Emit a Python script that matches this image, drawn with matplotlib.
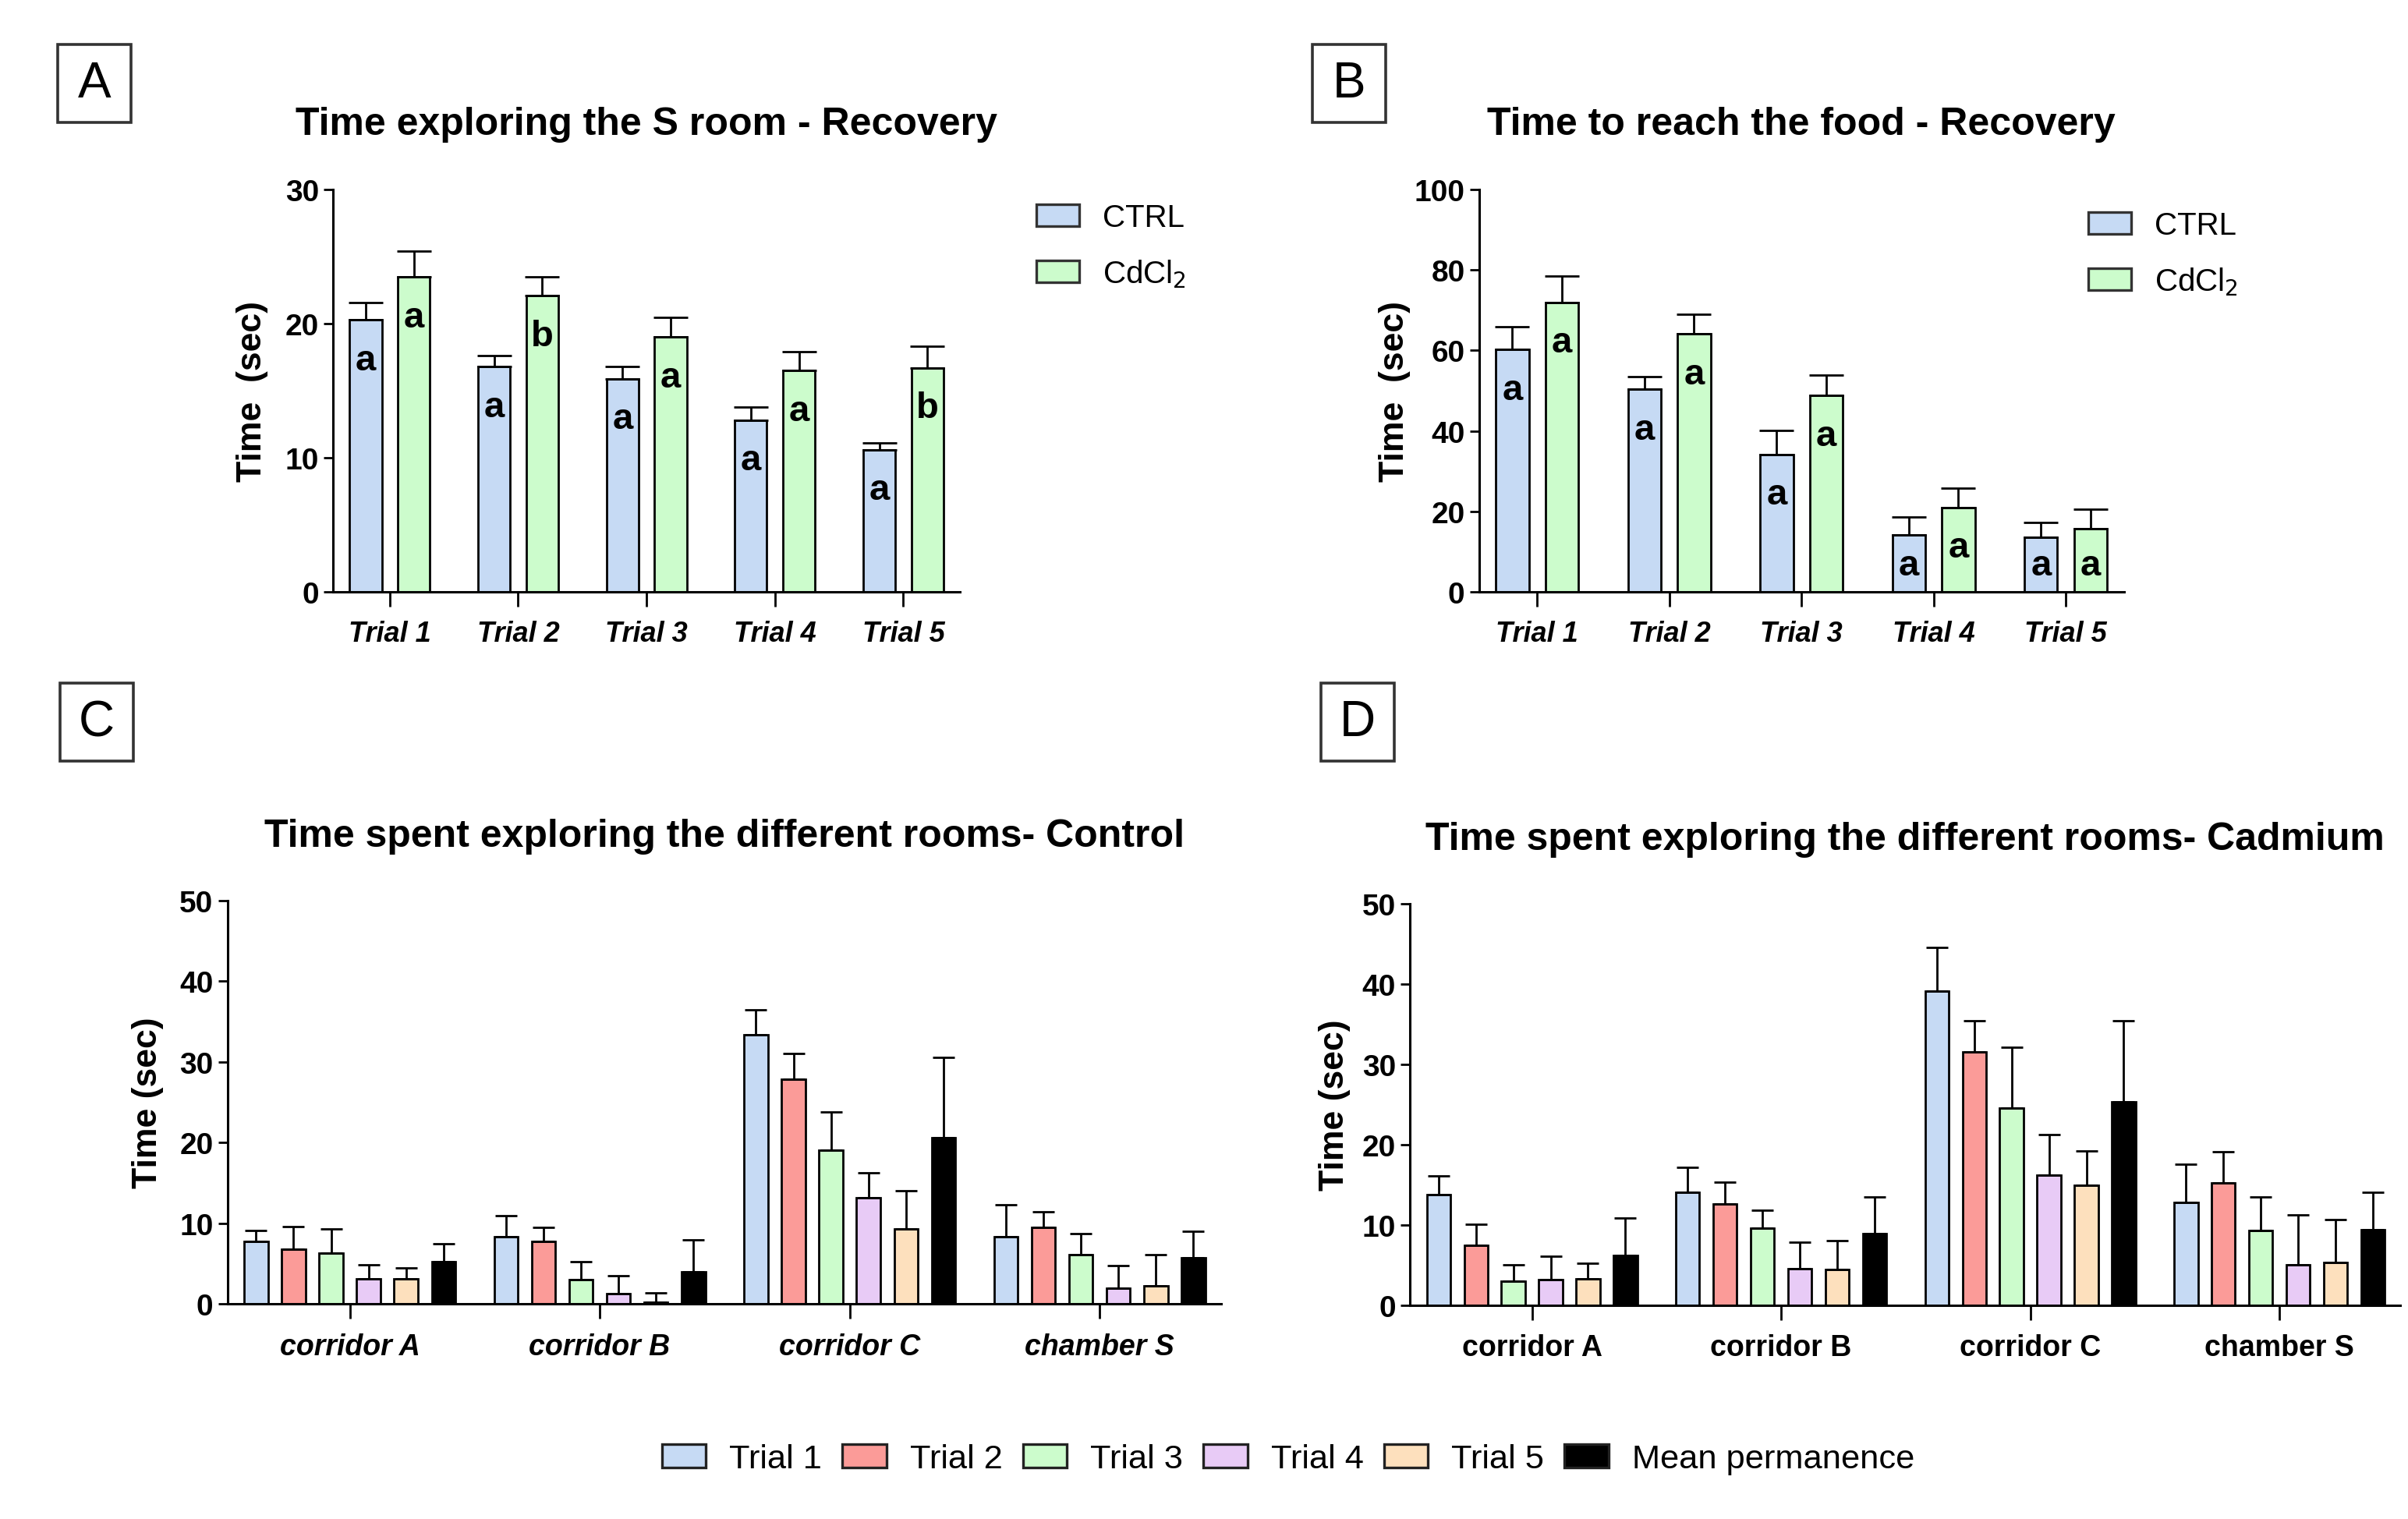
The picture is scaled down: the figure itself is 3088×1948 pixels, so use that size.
import numpy as np
import matplotlib
matplotlib.use("Agg")
from matplotlib import pyplot as plt
from matplotlib.patches import Rectangle, Patch

plt.rcParams['font.family'] = ['Liberation Sans', 'DejaVu Sans']

# panel A / B data
trials = ['Trial 1', 'Trial 2', 'Trial 3', 'Trial 4', 'Trial 5']
a_ctrl = [20.3, 16.8, 15.9, 12.8, 10.6]
a_ctrl_err = [1.3, 0.8, 0.9, 1.0, 0.5]
a_cd = [23.5, 22.1, 19.0, 16.5, 16.7]
a_cd_err = [1.9, 1.4, 1.5, 1.4, 1.6]
a_ctrl_letters = ['a', 'a', 'a', 'a', 'a']
a_cd_letters = ['a', 'b', 'a', 'a', 'b']

b_ctrl = [60.3, 50.4, 34.2, 14.1, 13.6]
b_ctrl_err = [5.7, 3.1, 5.9, 4.5, 3.6]
b_cd = [72.0, 64.1, 48.8, 21.0, 15.6]
b_cd_err = [6.6, 5.0, 5.0, 4.8, 5.0]
b_ctrl_letters = ['a', 'a', 'a', 'a', 'a']
b_cd_letters = ['a', 'a', 'a', 'a', 'a']

# panel C / D data (one list per series, values per room)
rooms = ['corridor A', 'corridor B', 'corridor C', 'chamber S']
series_names = ['Trial 1', 'Trial 2', 'Trial 3', 'Trial 4', 'Trial 5', 'Mean permanence']
c_vals = [
    [7.8, 8.35, 33.4, 8.35],
    [6.8, 7.8, 27.85, 9.55],
    [6.35, 3.05, 19.1, 6.15],
    [3.1, 1.26, 13.15, 2.0],
    [3.1, 0.2, 9.3, 2.3],
    [5.3, 4.0, 20.6, 5.7],
]
c_errs = [
    [1.3, 2.65, 3.1, 3.95],
    [2.8, 1.7, 3.15, 1.9],
    [2.95, 2.25, 4.7, 2.6],
    [1.8, 2.25, 3.15, 2.75],
    [1.4, 1.2, 4.7, 3.85],
    [2.2, 4.0, 10.0, 3.35],
]
d_vals = [
    [13.8, 14.1, 39.1, 12.8],
    [7.5, 12.6, 31.5, 15.3],
    [3.05, 9.6, 24.6, 9.3],
    [3.2, 4.55, 16.2, 5.1],
    [3.3, 4.5, 15.0, 5.4],
    [6.2, 9.0, 25.3, 9.4],
]
d_errs = [
    [2.3, 3.1, 5.45, 4.8],
    [2.6, 2.8, 3.9, 3.8],
    [2.0, 2.3, 7.5, 4.2],
    [2.9, 3.35, 5.1, 6.2],
    [2.0, 3.6, 4.2, 5.3],
    [4.7, 4.5, 10.15, 4.7],
]

ctrl_color = '#c6daf4'
cd_color = '#ccfccc'
series_colors = ['#c6daf4', '#fb9b98', '#ccfccc', '#e8cbf6', '#fde0bd', '#000000']

W, H = 3088, 1949
fig = plt.figure(figsize=(W / 200, H / 200), dpi=200)


def style_axes(ax, ymax, ystep):
    ax.spines['top'].set_visible(False)
    ax.spines['right'].set_visible(False)
    ax.spines['left'].set_linewidth(1.1)
    ax.spines['bottom'].set_linewidth(1.1)
    ax.set_ylim(0, ymax)
    ax.set_yticks(np.arange(0, ymax + 1, ystep))
    ax.tick_params(axis='y', length=4.5, width=1.0, labelsize=14, pad=2)
    ax.tick_params(axis='x', length=7, width=1.0, pad=6)
    for lab in ax.get_yticklabels():
        lab.set_fontweight('bold')


def two_group_panel(ax, ctrl, ctrl_err, cd, cd_err, ctrl_let, cd_let, ymax, ystep, title, lab_x):
    x = np.arange(len(trials))
    w = 0.25
    ax.bar(x - 0.1875, ctrl, w, color=ctrl_color, edgecolor='black', linewidth=1.0, zorder=2)
    ax.bar(x + 0.1875, cd, w, color=cd_color, edgecolor='black', linewidth=1.0, zorder=2)
    ax.errorbar(x - 0.1875, ctrl, yerr=[np.zeros(len(ctrl)), ctrl_err], fmt='none',
                ecolor='black', elinewidth=1.0, capsize=8, capthick=1.0, zorder=3)
    ax.errorbar(x + 0.1875, cd, yerr=[np.zeros(len(cd)), cd_err], fmt='none',
                ecolor='black', elinewidth=1.0, capsize=8, capthick=1.0, zorder=3)
    for i in range(len(trials)):
        ax.text(x[i] - 0.1875, max(ctrl[i] - 0.1 * ymax, 0.065 * ymax), ctrl_let[i],
                ha='center', va='center', fontsize=17, fontweight='bold', zorder=4)
        ax.text(x[i] + 0.1875, max(cd[i] - 0.1 * ymax, 0.065 * ymax), cd_let[i],
                ha='center', va='center', fontsize=17, fontweight='bold', zorder=4)
    ax.set_xlim(-0.44, len(trials) - 0.56)
    style_axes(ax, ymax, ystep)
    ax.set_xticks(x)
    ax.set_xticklabels(trials, fontsize=13, fontweight='bold', fontstyle='italic')
    ax.set_ylabel('Time  (sec)', fontsize=16, fontweight='bold')
    ax.yaxis.set_label_coords(lab_x, 0.5)
    ax.set_title(title, fontsize=18, fontweight='bold', pad=25.5)


def room_panel(ax, vals, errs, title, italic, lab_x):
    x = np.arange(len(rooms))
    w = 0.095
    for i in range(len(series_names)):
        pos = x - 0.375 + 0.15 * i
        ax.bar(pos, vals[i], w, color=series_colors[i], edgecolor='black', linewidth=1.0, zorder=2)
        ax.errorbar(pos, vals[i], yerr=[np.zeros(len(rooms)), errs[i]], fmt='none',
                    ecolor='black', elinewidth=1.0, capsize=5, capthick=1.0, zorder=3)
    ax.set_xlim(-0.49, len(rooms) - 0.515)
    style_axes(ax, 50, 10)
    ax.set_xticks(x)
    ax.set_xticklabels(rooms, fontsize=13.5, fontweight='bold',
                       fontstyle='italic' if italic else 'normal')
    ax.set_ylabel('Time (sec)', fontsize=16, fontweight='bold')
    ax.yaxis.set_label_coords(lab_x, 0.5)
    ax.set_title(title, fontsize=18, fontweight='bold', pad=25)


ax_a = fig.add_axes([0.1384, 0.6101, 0.2602, 0.2646])
two_group_panel(ax_a, a_ctrl, a_ctrl_err, a_cd, a_cd_err, a_ctrl_letters, a_cd_letters,
                30, 10, 'Time exploring the S room - Recovery', -0.104)
ax_b = fig.add_axes([0.6142, 0.6101, 0.2678, 0.2646])
two_group_panel(ax_b, b_ctrl, b_ctrl_err, b_cd, b_cd_err, b_ctrl_letters, b_cd_letters,
                100, 20, 'Time to reach the food - Recovery', -0.106)
ax_c = fig.add_axes([0.0944, 0.1414, 0.4126, 0.2656])
room_panel(ax_c, c_vals, c_errs, 'Time spent exploring the different rooms- Control', True, -0.064)
ax_d = fig.add_axes([0.5855, 0.1404, 0.4113, 0.2646])
room_panel(ax_d, d_vals, d_errs, 'Time spent exploring the different rooms- Cadmium', False, -0.060)

# legends for A and B
ab_handles = [Patch(facecolor=ctrl_color, edgecolor='#333333', linewidth=1.2),
              Patch(facecolor=cd_color, edgecolor='#333333', linewidth=1.2)]
ab_labels = ['CTRL', 'CdCl$_2$']
for lx, ly in [(0.4305, 0.8660), (0.8673, 0.8610)]:
    fig.legend(ab_handles, ab_labels, loc='upper left', bbox_to_anchor=(lx, ly),
               bbox_transform=fig.transFigure, frameon=False, fontsize=14.5,
               handlelength=1.36, handleheight=0.7, handletextpad=0.75,
               labelspacing=0.8, borderpad=0, borderaxespad=0)

# bottom legend for C and D
cd_handles = [Patch(facecolor=c, edgecolor='#222222', linewidth=1.2) for c in series_colors]
fig.legend(cd_handles, series_names, loc='center', bbox_to_anchor=(0.535, 0.0395),
           bbox_transform=fig.transFigure, frameon=False, fontsize=15.6, ncol=6,
           handlelength=1.3, handleheight=0.7, handletextpad=0.7, columnspacing=0.6,
           borderpad=0, borderaxespad=0)

# panel letters in boxes
box_w, box_h = 94 / W, 100 / H
for letter, cx, cy in [('A', 0.0392, 0.9444), ('B', 0.5603, 0.9444),
                       ('C', 0.0402, 0.5242), ('D', 0.5638, 0.5242)]:
    fig.patches.append(Rectangle((cx - box_w / 2, cy - box_h / 2), box_w, box_h,
                                 transform=fig.transFigure, fill=False,
                                 edgecolor='#333333', linewidth=1.3))
    fig.text(cx, cy, letter, ha='center', va='center', fontsize=23)

fig.savefig('out.png', dpi=200)
